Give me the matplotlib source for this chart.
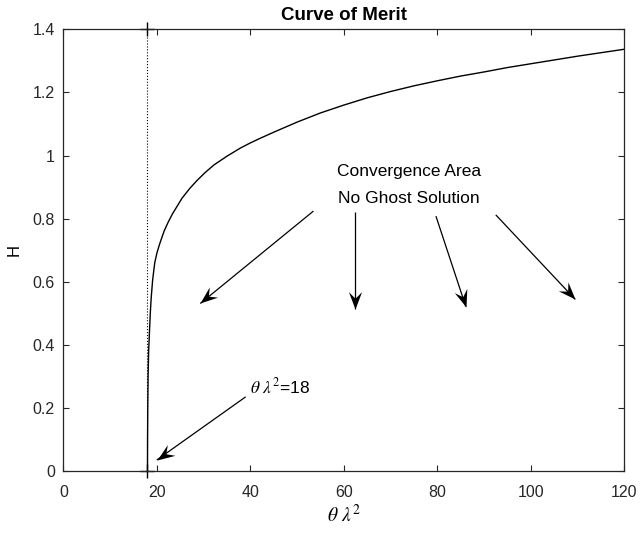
import math
import matplotlib
matplotlib.use("Agg")
import matplotlib.pyplot as plt
from matplotlib.path import Path
from matplotlib.markers import MarkerStyle
from matplotlib.transforms import Affine2D

plt.rcParams['font.family'] = ['Liberation Sans', 'DejaVu Sans']
plt.rcParams['mathtext.fontset'] = 'stix'

# Curve of merit
x_curve = [18, 18.02, 18.06, 18.13, 18.25, 18.45, 18.6, 18.8, 19.1, 19.55, 20.0,
           20.5, 21.0, 21.6, 22.4, 23.3, 25.4, 27.0, 28.6, 30.4, 32.2, 35.0, 37.9,
           40, 42, 45, 50, 55, 60, 65, 70, 75, 80, 85, 90, 95, 100, 105, 110, 115, 120]
h_curve = [0, 0.1, 0.2, 0.3, 0.38, 0.45, 0.50, 0.55, 0.605, 0.66, 0.69,
           0.715, 0.737, 0.762, 0.788, 0.814, 0.865, 0.895, 0.921, 0.947, 0.970,
           0.998, 1.024, 1.040, 1.054, 1.074, 1.106, 1.135, 1.160, 1.183, 1.203,
           1.221, 1.237, 1.252, 1.265, 1.279, 1.291, 1.303, 1.315, 1.326, 1.337]

# vertical boundary at theta*lambda^2 = 18
x_bound = [18, 18]
h_bound = [0, 1.4]

# arrows: start and tip
arrow_start_x = [53.5, 62.4, 79.7, 92.5, 39.0]
arrow_start_y = [0.824, 0.822, 0.808, 0.812, 0.235]
arrow_end_x = [29.3, 62.4, 86.1, 109.5, 20.0]
arrow_end_y = [0.531, 0.515, 0.521, 0.544, 0.035]

xticks = [0, 20, 40, 60, 80, 100, 120]
yticks = [0, 0.2, 0.4, 0.6, 0.8, 1.0, 1.2, 1.4]
ytick_labels = ['0', '0.2', '0.4', '0.6', '0.8', '1', '1.2', '1.4']

fig = plt.figure(figsize=(6.41, 5.34), dpi=100)
ax = fig.add_axes([0.0988, 0.118, 0.8752, 0.827])
ax.set_xlim(0, 120)
ax.set_ylim(0, 1.4)

ax.plot(x_curve, h_curve, color='black', lw=1.0)
ax.plot(x_bound, h_bound, color='black', lw=0.8, ls=':', marker='+',
        markersize=10, markeredgewidth=1.0, clip_on=False)

# concave ("vback") arrow head, tip at origin pointing along +x
head_path = Path([(0, 0), (-1, 0.38), (-0.62, 0), (-1, -0.38), (0, 0)],
                 [Path.MOVETO, Path.LINETO, Path.LINETO, Path.LINETO, Path.CLOSEPOLY])
for sx, sy, ex, ey in zip(arrow_start_x, arrow_start_y, arrow_end_x, arrow_end_y):
    ax.plot([sx, ex], [sy, ey], color='black', lw=0.9, solid_capstyle='butt')
    (dsx, dsy), (dex, dey) = ax.transData.transform([(sx, sy), (ex, ey)])
    ang = math.degrees(math.atan2(dey - dsy, dex - dsx))
    m = MarkerStyle(head_path, transform=Affine2D().rotate_deg(ang))
    ax.plot([ex], [ey], marker=m, markersize=25, color='black',
            markeredgewidth=0, linestyle='none')

ax.text(73.9, 0.951, 'Convergence Area', ha='center', va='center', fontsize=12.5)
ax.text(74.0, 0.864, 'No Ghost Solution', ha='center', va='center', fontsize=12.5)
ax.text(39.9, 0.267, r'$\theta\ \lambda^2$=18', ha='left', va='center', fontsize=12.5)

ax.set_xticks(xticks)
ax.set_yticks(yticks)
ax.set_yticklabels(ytick_labels)
ax.tick_params(direction='in', length=4, width=0.8, top=True, right=True,
               labelsize=11.5, colors='#262626')
ax.tick_params(axis='x', pad=10)
ax.tick_params(axis='y', pad=6)
for s in ax.spines.values():
    s.set_color('#262626')
    s.set_linewidth(0.9)

ax.set_title('Curve of Merit', fontsize=13.5, fontweight='bold', pad=7)
ax.set_xlabel(r'$\theta\ \lambda^2$', fontsize=14, labelpad=3)
ax.set_ylabel('H', fontsize=12, labelpad=8)

fig.savefig('out.png', dpi=100)
